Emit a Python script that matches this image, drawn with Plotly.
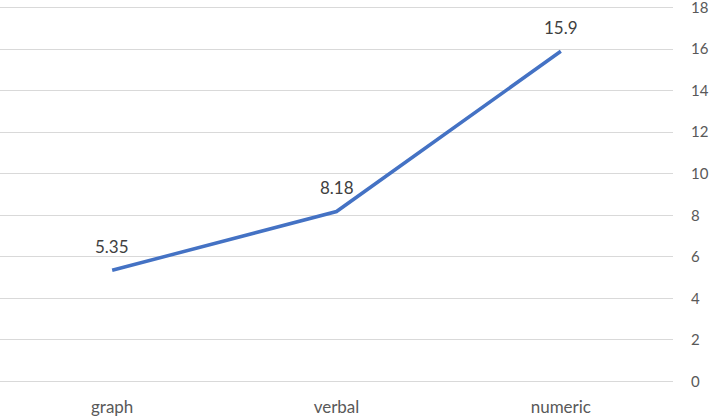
import plotly.graph_objects as go

categories = ["graph", "verbal", "numeric"]
values = [5.35, 8.18, 15.9]
value_labels = ["5.35", "8.18", "15.9"]
y_ticks = [0, 2, 4, 6, 8, 10, 12, 14, 16, 18]

fig = go.Figure()
fig.add_trace(go.Scatter(
    x=categories, y=values, mode="lines",
    line=dict(color="#4472C4", width=3.5),
    hoverinfo="skip", showlegend=False,
))
for c, v, t in zip(categories, values, value_labels):
    fig.add_annotation(x=c, y=v, text=t, showarrow=False, yshift=24,
                       font=dict(family="Lato, Open Sans, sans-serif", size=17, color="#404040"))

fig.update_layout(
    width=709, height=416,
    margin=dict(l=0, r=36, t=6, b=33),
    paper_bgcolor="white", plot_bgcolor="white",
    font=dict(family="Lato, Open Sans, sans-serif", size=17, color="#595959"),
    xaxis=dict(type="category", range=[-0.5, 2.5], showgrid=False, zeroline=False,
               showline=False, ticks="", ticklabelstandoff=12, automargin=False,
               tickfont=dict(size=17)),
    yaxis=dict(side="right", range=[-0.08, 18.08], tickvals=y_ticks, showgrid=True,
               gridcolor="#d9d9d9", gridwidth=1, zeroline=False, showline=False,
               ticks="", ticklabelstandoff=17, automargin=False,
               ticklabeloverflow="allow", tickfont=dict(size=15)),
)
fig.write_html("out.html", post_script="document.body.style.margin='0';",
               config={"displayModeBar": False})
